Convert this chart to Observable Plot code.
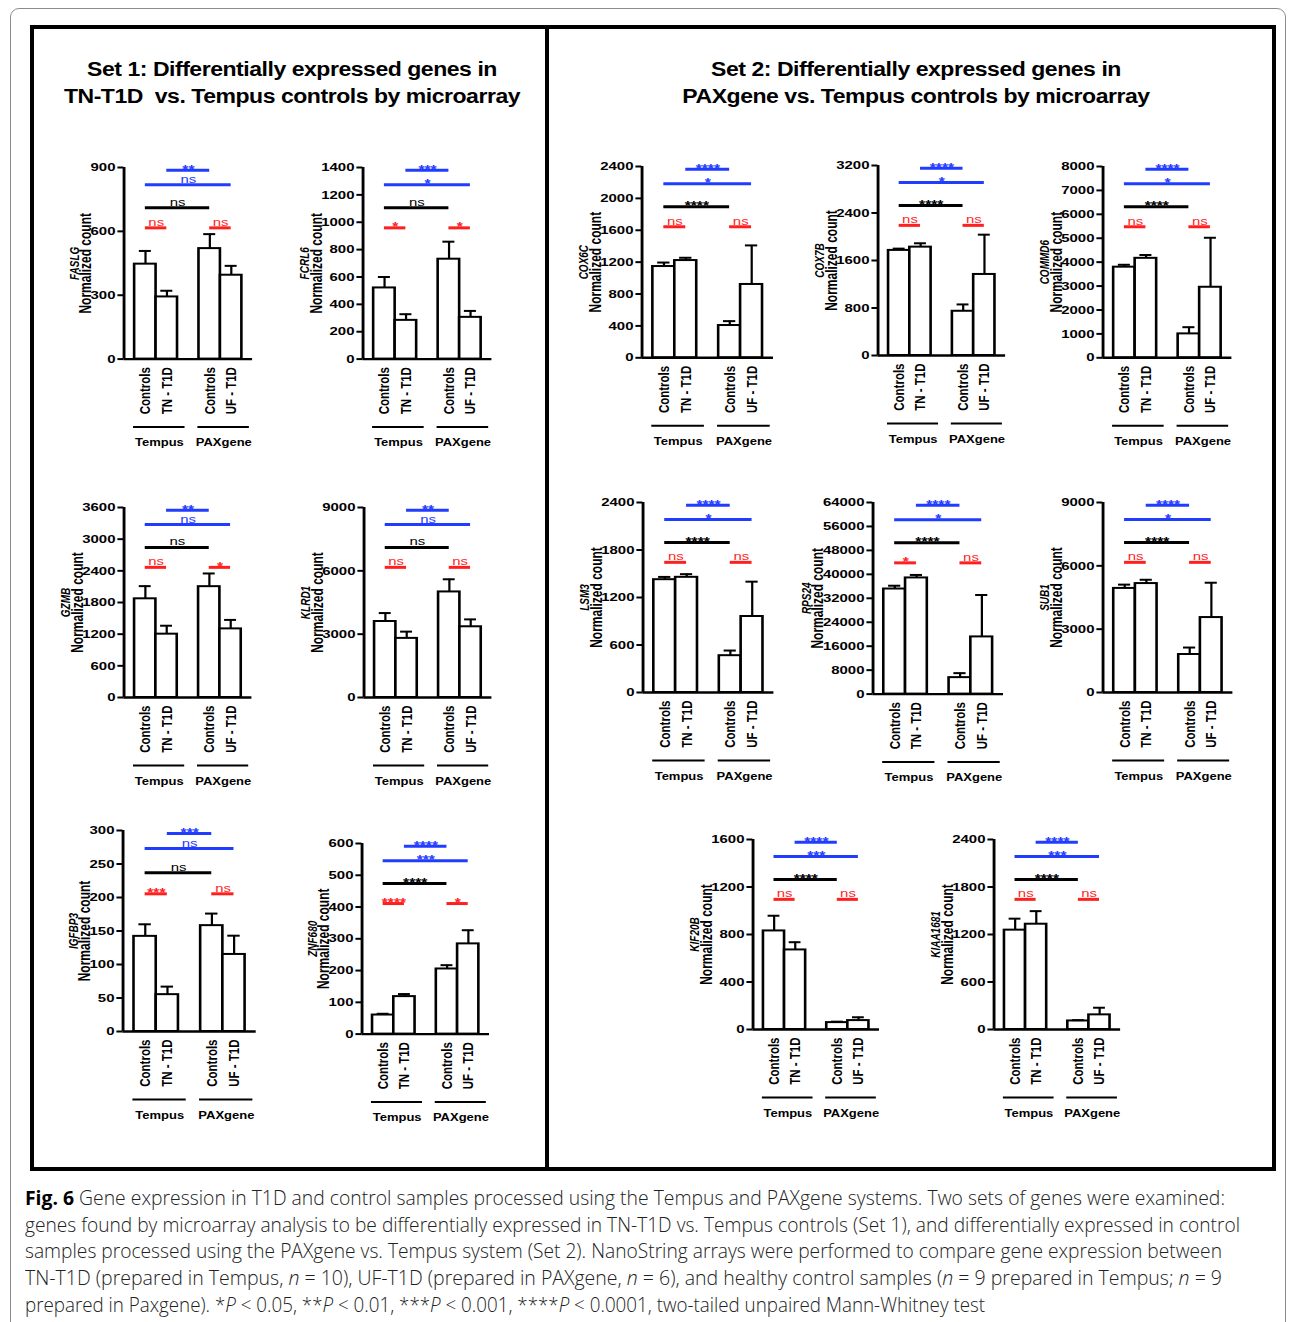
<!DOCTYPE html>
<html><head><meta charset="utf-8">
<script src="https://cdn.jsdelivr.net/npm/d3@7"></script>
<script src="https://cdn.jsdelivr.net/npm/@observablehq/plot@0.6"></script>
<style>
html,body{margin:0;padding:0;background:#fff;}
#page{position:relative;width:1292px;height:1322px;overflow:hidden;font-family:"Liberation Sans",Arial,sans-serif;}
.outer{position:absolute;left:10px;top:8px;width:1276px;height:1340px;border:1px solid #8c8c8c;border-radius:9px;box-sizing:border-box;}
.box{position:absolute;left:30px;top:25px;width:1246px;height:1146px;border:4px solid #000;box-sizing:border-box;}
.divider{position:absolute;left:545px;top:25px;width:4px;height:1146px;background:#000;}
.title{position:absolute;width:600px;font-weight:bold;font-size:20px;letter-spacing:-0.4px;line-height:27px;text-align:center;white-space:nowrap;transform:scaleX(1.15);transform-origin:center;color:#000;}
.panel{position:absolute;}
.capline{position:absolute;left:25px;white-space:nowrap;font-family:"Open Sans",sans-serif;font-weight:300;font-size:19.5px;line-height:26px;color:#222;transform-origin:left center;}
.capline b{font-weight:700;color:#000;}
</style>
</head><body>
<div id="page">
  <div class="outer"></div>
  <div class="box"></div>
  <div class="divider"></div>
  <div class="title" style="left:-8px;top:56px;">Set 1: Differentially expressed genes in<br>TN-T1D&nbsp; vs. Tempus controls by microarray</div>
  <div class="title" style="left:616px;top:56px;">Set 2: Differentially expressed genes in<br>PAXgene vs. Tempus controls by microarray</div>
</div>
<script>
// ---------------- data ----------------
const genes = ["FASLG","FCRL6","GZMB","KLRD1","IGFBP3","ZNF680","COX6C","COX7B","COMMD6","LSM3","RPS24","SUB1","KIF20B","KIAA1681"];
const groupLabels = ["Controls","TN - T1D","Controls","UF - T1D"];
const platforms = ["Tempus","PAXgene"];

const meanCtrlTempus = [446, 520, 1870, 3600, 142,  60, 1145, 1770, 3790, 1425, 35100, 4930, 830, 1255];
const meanTNT1D      = [292, 283, 1200, 2800,  55, 118, 1220, 1825, 4160, 1455, 38800, 5160, 670, 1330];
const meanCtrlPAX    = [519, 730, 2100, 5000, 158, 205,  405,  745, 1000,  465,  5500, 1800,  58,  108];
const meanUFT1D      = [394, 305, 1300, 3350, 115, 284,  920, 1365, 2950,  960, 19100, 3550,  75,  185];

const semCtrlTempus  = [ 62,  80,  240,  400,  18,   4,   50,   30,  100,   35,  1100,  180, 128, 145];
const semTNT1D       = [ 29,  45,  160,  320,  12,   8,   35,   65,  140,   40,  1000,  180,  65, 165];
const semCtrlPAX     = [ 68, 128,  250,  600,  18,  12,   55,  115,  280,   65,  1500,  330,   8,  10];
const semUFT1D       = [ 44,  47,  170,  350,  28,  43,  490,  670, 2070,  440, 14000, 1650,  28,  90];

// significance labels
const sigTempusPair  = ["ns","*","ns","ns","***","****","ns","ns","ns","ns","*","ns","ns","ns"];      // Controls vs TN-T1D
const sigPAXPair     = ["ns","*","*","ns","ns","*","ns","ns","ns","ns","ns","ns","ns","ns"];          // Controls vs UF-T1D
const sigControls    = ["ns","ns","ns","ns","ns","****","****","****","****","****","****","****","****","****"];
const sigLongBlue    = ["ns","*","ns","ns","ns","***","*","*","*","*","*","*","***","***"];
const sigShortBlue   = ["**","***","**","**","***","****","****","****","****","****","****","****","****","****"];

const yTicks = [
  [0,300,600,900],
  [0,200,400,600,800,1000,1200,1400],
  [0,600,1200,1800,2400,3000,3600],
  [0,3000,6000,9000],
  [0,50,100,150,200,250,300],
  [0,100,200,300,400,500,600],
  [0,400,800,1200,1600,2000,2400],
  [0,800,1600,2400,3200],
  [0,1000,2000,3000,4000,5000,6000,7000,8000],
  [0,600,1200,1800,2400],
  [0,8000,16000,24000,32000,40000,48000,56000,64000],
  [0,3000,6000,9000],
  [0,400,800,1200,1600],
  [0,600,1200,1800,2400]
];

// ---------------- layout (image px) ----------------
const layout = {
  FASLG:   {ax:123,   top:166.7, bottom:358.3, end:251.7},
  FCRL6:   {ax:362.7, top:166.7, bottom:358.3, end:491.7},
  GZMB:    {ax:123,   top:507,   bottom:697,   end:251},
  KLRD1:   {ax:363,   top:507,   bottom:697,   end:491},
  IGFBP3:  {ax:122.7, top:830,   bottom:1031,  end:256},
  ZNF680:  {ax:361.7, top:842.7, bottom:1033.3,end:489.3},
  COX6C:   {ax:641.7, top:166,   bottom:357.3, end:773.3},
  COX7B:   {ax:877.3, top:165,   bottom:355,   end:1005},
  COMMD6:  {ax:1102.7,top:166,   bottom:357.3, end:1231.7},
  LSM3:    {ax:642,   top:502,   bottom:692,   end:773},
  RPS24:   {ax:872.7, top:501.7, bottom:693.3, end:1003.3},
  SUB1:    {ax:1102,  top:502,   bottom:692,   end:1232},
  KIF20B:  {ax:752.7, top:839.3, bottom:1029.3,end:879.3},
  KIAA1681:{ax:993.3, top:839.3, bottom:1029.3,end:1120}
};

const SX = 1.3;          // horizontal stretch of the original figure
const RED = "#ff1f1f", BLUE = "#1f3cff", BLACK = "#000";
const page = document.getElementById("page");
const means = [meanCtrlTempus, meanTNT1D, meanCtrlPAX, meanUFT1D];
const sems  = [semCtrlTempus, semTNT1D, semCtrlPAX, semUFT1D];

genes.forEach((gene, k) => {
  const L = layout[gene];
  const frameW = (L.end - L.ax) / SX;
  const frameH = L.bottom - L.top;
  const mT = 14, mB = 100, mL = 78, mR = 8;
  const W = mL + frameW + mR, H = mT + frameH + mB;
  const ticks = yTicks[k];
  const ymax = ticks[ticks.length - 1];
  const xDom = [-1, 5];

  const rows = groupLabels.map((label, i) => ({
    slot: i < 2 ? i : i + 1, label, mean: means[i][k], sem: sems[i][k]
  }));
  const s = rows.map(r => r.slot);
  const plat = platforms.map((name, j) => ({name, a: s[2*j], b: s[2*j+1]}));
  const sig = [
    {a: s[0], b: s[1], level: 0.685, color: RED,   label: sigTempusPair[k]},
    {a: s[2], b: s[3], level: 0.685, color: RED,   label: sigPAXPair[k]},
    {a: s[0], b: s[2], level: 0.79,  color: BLACK, label: sigControls[k]},
    {a: s[0], b: s[3], level: 0.91,  color: BLUE,  label: sigLongBlue[k]},
    {a: s[1], b: s[2], level: 0.985, color: BLUE,  label: sigShortBlue[k]}
  ];

  const digits = String(ymax).length;
  const lw = digits * 0.556 * 11.5;
  const ncDx = -(lw + 10);

  const svg = Plot.plot({
    width: W, height: H,
    marginLeft: mL, marginRight: mR, marginTop: mT, marginBottom: mB,
    x: {domain: xDom, axis: null},
    y: {domain: [0, ymax]},
    style: {fontFamily: "'Liberation Sans', Arial, sans-serif", fontWeight: "bold", color: "#000", background: "transparent", overflow: "visible"},
    marks: [
      Plot.rectY(rows, {x1: d => d.slot - 0.5, x2: d => d.slot + 0.5, y: "mean", fill: "white", stroke: "black", strokeWidth: 2}),
      Plot.ruleX(rows, {x: "slot", y1: "mean", y2: d => d.mean + d.sem, stroke: "black", strokeWidth: 1.7}),
      Plot.ruleY(rows, {y: d => d.mean + d.sem, x1: d => d.slot - 0.28, x2: d => d.slot + 0.28, stroke: "black", strokeWidth: 2}),
      Plot.ruleX([xDom[0]], {y1: 0, y2: ymax, stroke: "black", strokeWidth: 2.2}),
      Plot.ruleY([0], {x1: xDom[0], x2: xDom[1], stroke: "black", strokeWidth: 2.4}),
      Plot.axisY({ticks, tickFormat: d => String(d), tickSize: 4.6, tickPadding: 2, fontSize: 11.5, fontWeight: "bold", strokeWidth: 2, label: null}),
      // x category labels
      Plot.text(rows, {x: "slot", y: d => 0, text: "label", rotate: -90, textAnchor: "end", lineAnchor: "middle", dy: 8, fontSize: 11.5, fontWeight: "bold"}),
      // platform group lines + labels
      Plot.ruleY(plat, {y: d => 0, x1: d => d.a - 0.55, x2: d => d.b + 0.85, dy: 68, stroke: "black", strokeWidth: 2}),
      Plot.text(plat, {x: d => (d.a + d.b) / 2 + 0.15, y: d => 0, text: "name", dy: 84, fontSize: 10, fontWeight: "bold", lineAnchor: "middle"}),
      // y-axis title
      Plot.text([gene], {frameAnchor: "left", rotate: -90, textAnchor: "middle", lineAnchor: "middle", dx: ncDx - 9, text: d => d, fontSize: 10, fontStyle: "italic", fontWeight: "bold"}),
      Plot.text(["Normalized count"], {frameAnchor: "left", rotate: -90, textAnchor: "middle", lineAnchor: "middle", dx: ncDx, text: d => d, fontSize: 12, fontWeight: "bold"}),
      // significance bars
      Plot.ruleY(sig, {y: d => d.level * ymax, x1: "a", x2: "b", stroke: d => d.color, strokeWidth: 3}),
      Plot.text(sig, {filter: d => d.label === "ns", x: d => (d.a + d.b) / 2, y: d => d.level * ymax, text: "label", fill: d => d.color, fontSize: 11.5, fontWeight: "normal", lineAnchor: "bottom", dy: -2}),
      Plot.text(sig, {filter: d => d.label !== "ns", x: d => (d.a + d.b) / 2, y: d => d.level * ymax, text: "label", fill: d => d.color, fontSize: 12, fontWeight: "bold", lineAnchor: "bottom", dy: 3.5})
    ]
  });
  svg.setAttribute("viewBox", `0 0 ${W} ${H}`);
  svg.setAttribute("preserveAspectRatio", "none");
  svg.setAttribute("width", W * SX);
  svg.setAttribute("height", H);
  svg.style.width = (W * SX) + "px";
  svg.style.height = H + "px";
  svg.style.maxWidth = "none";
  const div = document.createElement("div");
  div.className = "panel";
  div.style.left = (L.ax - mL * SX) + "px";
  div.style.top = (L.top - mT) + "px";
  div.appendChild(svg);
  page.appendChild(div);
});

// ---------------- caption ----------------
const captionLines = [
  "<b>Fig. 6</b> Gene expression in T1D and control samples processed using the Tempus and PAXgene systems. Two sets of genes were examined:",
  "genes found by microarray analysis to be differentially expressed in TN-T1D vs. Tempus controls (Set 1), and differentially expressed in control",
  "samples processed using the PAXgene vs. Tempus system (Set 2). NanoString arrays were performed to compare gene expression between",
  "TN-T1D (prepared in Tempus, <i>n</i> = 10), UF-T1D (prepared in PAXgene, <i>n</i> = 6), and healthy control samples (<i>n</i> = 9 prepared in Tempus; <i>n</i> = 9",
  "prepared in Paxgene). *<i>P</i> &lt; 0.05, **<i>P</i> &lt; 0.01, ***<i>P</i> &lt; 0.001, ****<i>P</i> &lt; 0.0001, two-tailed unpaired Mann-Whitney test"
];
const captionWidths = [1200, 1215, 1197, 1197, 960];
const captionCenters = [1198, 1225, 1251, 1278, 1305];
captionLines.forEach((html, i) => {
  const d = document.createElement("div");
  d.className = "capline";
  d.innerHTML = html;
  d.style.top = (captionCenters[i] - 13) + "px";
  page.appendChild(d);
  const w = d.getBoundingClientRect().width;
  d.style.transform = `scaleX(${captionWidths[i] / w})`;
});
</script>
</body></html>
